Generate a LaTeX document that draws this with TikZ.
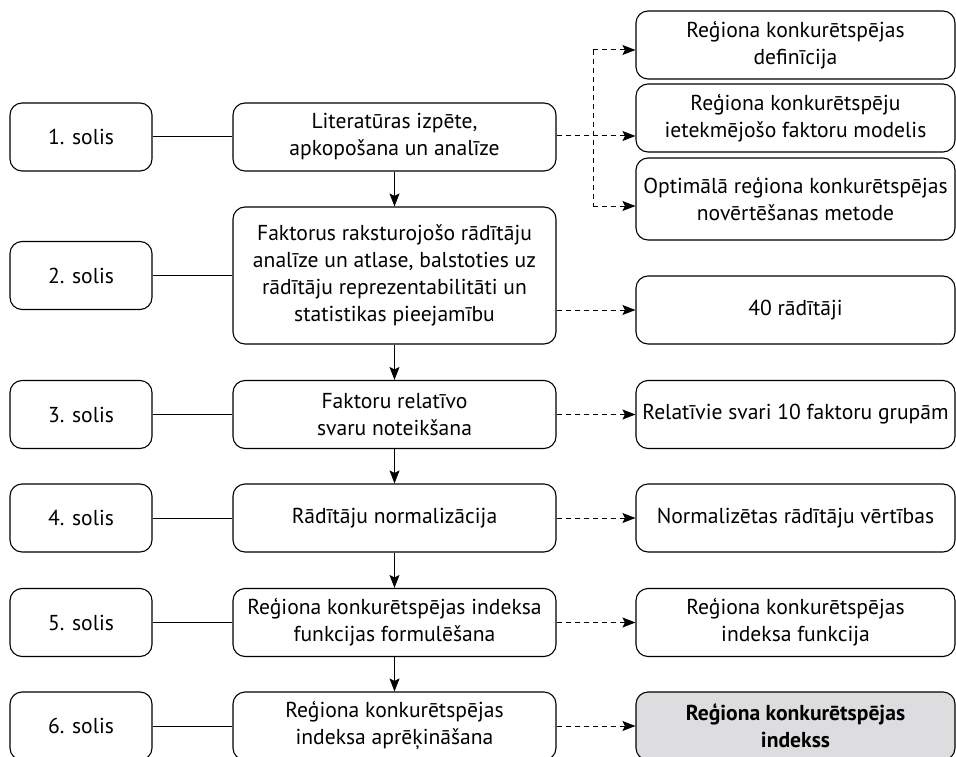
\documentclass[tikz,border=0pt]{standalone}
\usepackage{fontspec}
\setmainfont{PT Sans}
\usetikzlibrary{arrows.meta}
\definecolor{boxgrey}{RGB}{221,221,223}
\begin{document}
\begin{tikzpicture}[x=1pt,y=-1pt,
  box/.style={draw, line width=1.1pt, rounded corners=12pt, align=center, inner sep=0pt,
    font=\fontsize{21.6}{27}\selectfont},
  leftbox/.style={box, minimum width=142pt, minimum height=68pt},
  midbox/.style={box, minimum width=323pt, minimum height=68pt},
  rightbox/.style={box, minimum width=319pt, minimum height=68pt},
  link/.style={line width=1pt},
  flow/.style={line width=1pt, -{Stealth[length=13pt,width=10pt,inset=2.5pt]}},
  dflow/.style={line width=1pt, dash pattern=on 5pt off 4pt, -{Stealth[length=13pt,width=10pt,inset=2.5pt]}},
  dline/.style={line width=1pt, dash pattern=on 5pt off 4pt}
]
\useasboundingbox (0,0) rectangle (956,757);

% left column
\node[leftbox] (s1) at (81,137) {1. solis};
\node[leftbox] (s2) at (81,275.5) {2. solis};
\node[leftbox] (s3) at (81,414.5) {3. solis};
\node[leftbox] (s4) at (81,518) {4. solis};
\node[leftbox] (s5) at (81,622.5) {5. solis};
\node[leftbox] (s6) at (81,726) {6. solis};

% middle column
\node[midbox] (m1) at (394.5,137) {Literatūras izpēte,\\apkopošana un analīze};
\node[midbox, minimum height=137pt] (m2) at (394.5,275.5) {Faktorus raksturojošo rādītāju\\analīze un atlase, balstoties uz\\rādītāju reprezentabilitāti un\\statistikas pieejamību};
\node[midbox] (m3) at (394.5,414.5) {Faktoru relatīvo\\svaru noteikšana};
\node[midbox] (m4) at (394.5,518) {Rādītāju normalizācija};
\node[midbox] (m5) at (394.5,622.5) {Reģiona konkurētspējas indeksa\\funkcijas formulēšana};
\node[midbox] (m6) at (394.5,726) {Reģiona konkurētspējas\\indeksa aprēķināšana};

% right column
\node[rightbox] (r1) at (795.5,45) {Reģiona konkurētspējas\\definīcija};
\node[rightbox] (r2) at (795.5,118) {Reģiona konkurētspēju\\ietekmējošo faktoru modelis};
\node[rightbox, minimum height=82pt] (r3) at (795.5,199) {Optimālā reģiona konkurētspējas\\novērtēšanas metode};
\node[rightbox] (r4) at (795.5,310) {40 rādītāji};
\node[rightbox] (r5) at (795.5,414.5) {Relatīvie svari 10 faktoru grupām};
\node[rightbox] (r6) at (795.5,518) {Normalizētas rādītāju vērtības};
\node[rightbox] (r7) at (795.5,622.5) {Reģiona konkurētspējas\\indeksa funkcija};
\node[rightbox, fill=boxgrey, font=\fontsize{21.6}{27}\selectfont\bfseries] (r8) at (795.5,726) {Reģiona konkurētspējas\\indekss};

% solid links left -> middle
\foreach \i in {1,...,6} {
  \draw[link] (s\i.east) -- (s\i.east -| m\i.west);
}

% vertical flow
\draw[flow] (m1) -- (m2);
\draw[flow] (m2) -- (m3);
\draw[flow] (m3) -- (m4);
\draw[flow] (m4) -- (m5);
\draw[flow] (m5) -- (m6);

% dashed outputs, step 1 with branch
\coordinate (e1) at ([yshift=1pt]m1.east);
\coordinate (bt) at (593,50);
\coordinate (bb) at (593,206);
\draw[dflow] (e1) -- (e1 -| r2.west);
\draw[dline] (bt) -- (bb);
\draw[dflow] (bt) -- (bt -| r1.west);
\draw[dflow] (bb) -- (bb -| r3.west);

\coordinate (e2) at (m2.east |- r4.west);
\draw[dflow] (e2) -- (r4.west);
\draw[dflow] (m3.east) -- (r5.west);
\draw[dflow] (m4.east) -- (r6.west);
\draw[dflow] (m5.east) -- (r7.west);
\draw[dflow] (m6.east) -- (r8.west);
\end{tikzpicture}
\end{document}
